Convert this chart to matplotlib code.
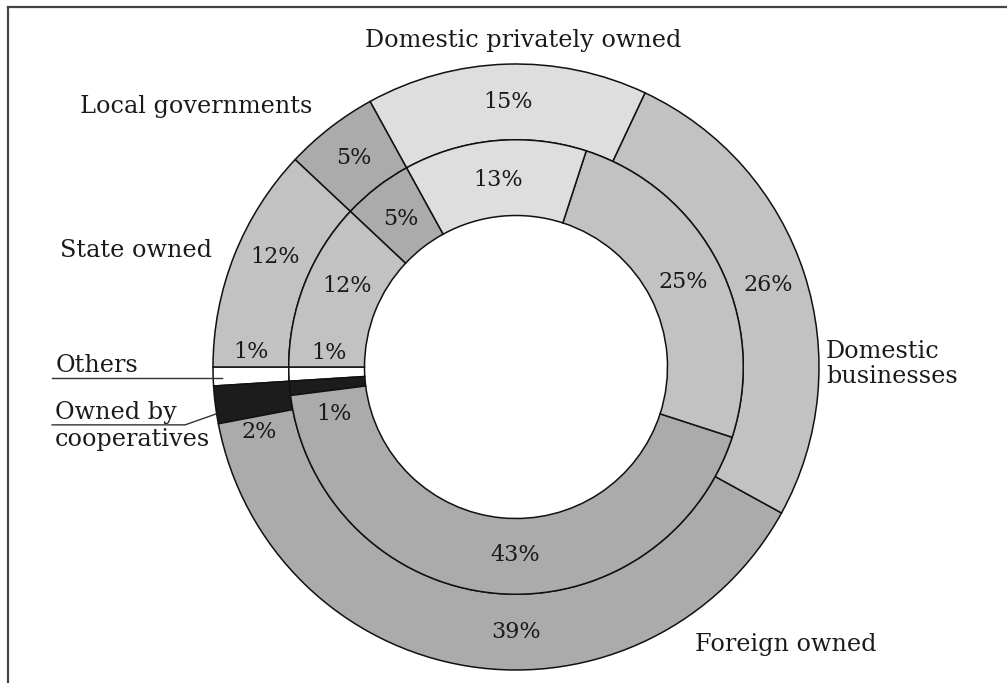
import numpy as np
import matplotlib.pyplot as plt
from matplotlib.lines import Line2D

# ownership shares (%), outer ring and inner ring
categories = ["Others", "Owned by\ncooperatives", "Foreign owned",
              "Domestic\nbusinesses", "Domestic privately owned",
              "Local governments", "State owned"]
outer_vals = [1, 2, 39, 26, 15, 5, 12]
inner_vals = [1, 1, 43, 25, 13, 5, 12]
colors = ["#ffffff", "#1c1c1c", "#ababab", "#c2c2c2", "#dedede",
          "#ababab", "#c2c2c2"]

# label angle nudges (deg) for the thin slices and the big bottom one
outer_shift = [-5, 7, 9, 0, 0, 0, -3]
inner_shift = [-6, 9, 5, 0, 0, 0, -4]

W, H = 1007, 683
cx, cy, R = 516, 367, 303   # pixel centre and outer radius

plt.rcParams['font.family'] = 'DejaVu Serif'
fs = 16      # percentages
fs_name = 17.2

fig = plt.figure(figsize=(W / 100, H / 100), dpi=100)
ax = fig.add_axes([0, 0, 1, 1])

wp = dict(width=0.25, edgecolor="#111111", linewidth=1.1)
w_out, _ = ax.pie(outer_vals, radius=1.0, colors=colors, startangle=180,
                  counterclock=True, wedgeprops=wp)
w_in, _ = ax.pie(inner_vals, radius=0.75, colors=colors, startangle=180,
                 counterclock=True, wedgeprops=wp)

ax.set_aspect('auto')
ax.set_xlim(-cx / R, (W - cx) / R)
ax.set_ylim(-(H - cy) / R, cy / R)
ax.axis('off')


def put_pct(wedges, vals, shifts, r):
    for w, v, s in zip(wedges, vals, shifts):
        a = np.deg2rad((w.theta1 + w.theta2) / 2 + s)
        ax.text(r * np.cos(a), r * np.sin(a), f"{v}%", ha='center',
                va='center', fontsize=fs, color="#1a1a1a")


put_pct(w_out, outer_vals, outer_shift, 0.875)
put_pct(w_in, inner_vals, inner_shift, 0.62)

tc = "#1a1a1a"
ax.text(0.023, 1.079, categories[4], ha='center', va='center', fontsize=fs_name, color=tc)
ax.text(-0.673, 0.861, categories[5], ha='right', va='center', fontsize=fs_name, color=tc)
ax.text(-1.003, 0.386, categories[6], ha='right', va='center', fontsize=fs_name, color=tc)
ax.text(1.023, 0.01, categories[3], ha='left', va='center', fontsize=fs_name,
        color=tc, linespacing=1.15)
ax.text(0.591, -0.917, categories[2], ha='left', va='center', fontsize=fs_name, color=tc)

# leaders for the two thin slices
ax.text(-1.521, -0.017, categories[0], ha='left', va='baseline', fontsize=fs_name, color=tc)
ax.plot([-1.531, -0.97], [-0.036, -0.036], color="#333333", lw=1)
ax.text(-1.521, -0.195, categories[1], ha='left', va='center', fontsize=fs_name,
        color=tc, linespacing=1.2)
ax.plot([-1.531, -1.092, -0.99], [-0.191, -0.191, -0.155], color="#333333", lw=1)

# frame lines (left and top only)
fig.add_artist(Line2D([8 / W, 8 / W], [0, 1 - 7 / H], color="#444444", lw=1.6))
fig.add_artist(Line2D([8 / W, 1], [1 - 7 / H, 1 - 7 / H], color="#444444", lw=1.6))

fig.savefig("out.png", dpi=100)
